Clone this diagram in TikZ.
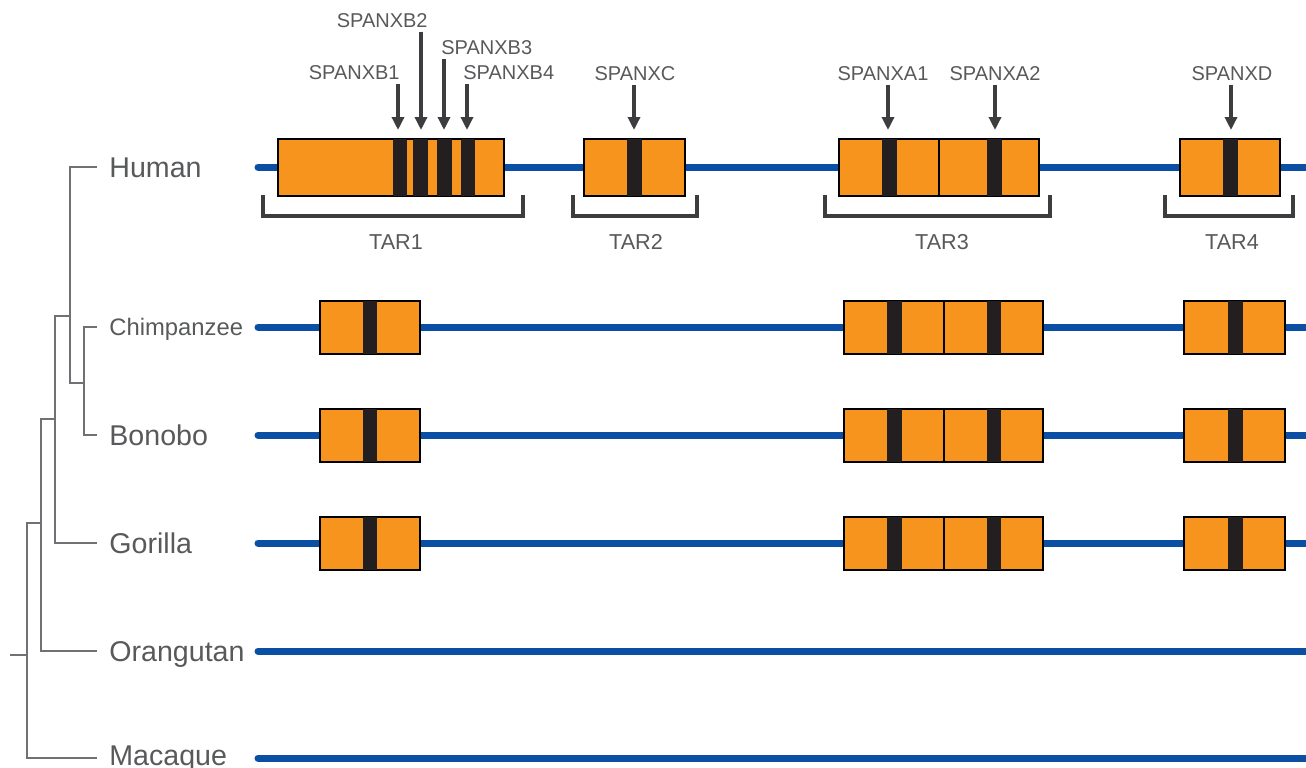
\documentclass[tikz,border=0pt]{standalone}
\usepackage{fontspec}
\setmainfont{Liberation Sans}
\usetikzlibrary{arrows.meta,positioning}
\definecolor{chromblue}{HTML}{0A4FA3}
\definecolor{taorange}{HTML}{F7941D}
\definecolor{bandblack}{HTML}{231F20}
\definecolor{labelgray}{HTML}{58595B}
\definecolor{markgray}{HTML}{3D3D3F}
\definecolor{treegray}{HTML}{707174}

\begin{document}
\begin{tikzpicture}[x=0.5pt,y=-0.5pt,
  chrom/.style={line width=3.5pt,draw=chromblue,line cap=round},
  segbox/.style={draw=black,line width=1pt,fill=taorange},
  band/.style={fill=bandblack},
  marker/.style={line width=2pt,draw=markgray,shorten <=2pt,-{Triangle[width=6pt,length=6.5pt]}},
  tarbrace/.style={line width=2pt,draw=markgray},
  tree/.style={line width=1.3pt,draw=treegray},
  species/.style={inner sep=0pt,text=labelgray,font=\fontsize{14.3}{17}\selectfont,text height=10.2pt,text depth=0pt},
  gene/.style={inner sep=0pt,text=labelgray,font=\fontsize{10}{12}\selectfont,text height=7.2pt,text depth=0pt},
  tar/.style={inner sep=0pt,text=labelgray,font=\fontsize{10.8}{13}\selectfont,text height=7.7pt,text depth=0pt}]
\useasboundingbox (0,0) rectangle (1306,767);

% Chromosomes
\foreach \y in {167,327,435,543,651,758}
  \draw[chrom] (258,\y) -- (1312,\y);

% Species labels
\coordinate (thum) at (97,167);
\coordinate (tchi) at (97,327);
\coordinate (tbon) at (97,435);
\coordinate (tgor) at (97,543);
\coordinate (tora) at (97,651);
\coordinate (tmac) at (97,758);
\node[species,right=6pt of thum] (lhum) {Human};
\node[species,right=6pt of tchi,font=\fontsize{11.9}{14}\selectfont,text height=8.5pt] (lchi) {Chimpanzee};
\node[species,right=6pt of tbon] (lbon) {Bonobo};
\node[species,right=6pt of tgor] (lgor) {Gorilla};
\node[species,right=6pt of tora] (lora) {Orangutan};
\node[species,right=6pt of tmac,yshift=1.5pt] (lmac) {Macaque};

% Tree
\draw[tree] (tchi) -| (84,435) -- (tbon);
\draw[tree] (thum) -| (70,383) -- (84,383);
\draw[tree] (tgor) -| (55,316) -- (70,316);
\draw[tree] (tora) -| (41,419) -- (55,419);
\draw[tree] (tmac) -| (27,523) -- (41,523);
\draw[tree] (10,655) -- (27,655);

% Human: TAR1
\draw[segbox] (278,139) rectangle (504,196);
\foreach \a/\b in {393/407,413/428,437/452,461/475}
  \fill[band] (\a,139) rectangle (\b,196);
% Human: TAR2
\draw[segbox] (584,139) rectangle (685,196);
\fill[band] (627,139) rectangle (642,196);
% Human: TAR3
\draw[segbox] (839,139) rectangle (1039,196);
\draw[line width=1pt] (939,139) -- (939,196);
\fill[band] (882,139) rectangle (897,196);
\fill[band] (987,139) rectangle (1002,196);
% Human: TAR4
\draw[segbox] (1180,139) rectangle (1280,196);
\fill[band] (1223,139) rectangle (1238,196);

% Chimpanzee, Bonobo, Gorilla
\foreach \y in {327,435,543} {
  \draw[segbox] (320,\y-26) rectangle (420,\y+27);
  \fill[band] (363,\y-26) rectangle (377,\y+27);
  \draw[segbox] (844,\y-26) rectangle (1043,\y+27);
  \draw[line width=1pt] (944,\y-26) -- (944,\y+27);
  \fill[band] (887,\y-26) rectangle (902,\y+27);
  \fill[band] (987,\y-26) rectangle (1001,\y+27);
  \draw[segbox] (1184,\y-26) rectangle (1285,\y+27);
  \fill[band] (1228,\y-26) rectangle (1243,\y+27);
}

% Genes
\node[gene,anchor=east] (gb1) at (400,72) {SPANXB1};
\node[gene,anchor=east] (gb2) at (428,20) {SPANXB2};
\node[gene,anchor=west] (gb3) at (441,47) {SPANXB3};
\node[gene,anchor=west] (gb4) at (463,72) {SPANXB4};
\node[gene] (gc) at (635,73) {SPANXC};
\node[gene] (ga1) at (883,73) {SPANXA1};
\node[gene] (ga2) at (995,73) {SPANXA2};
\node[gene] (gd) at (1232,73) {SPANXD};
\coordinate (mb1) at (398,130);
\coordinate (mb2) at (421,130);
\coordinate (mb3) at (444,130);
\coordinate (mb4) at (467,130);
\coordinate (mc) at (634,130);
\coordinate (ma1) at (888,130);
\coordinate (ma2) at (995,130);
\coordinate (md) at (1231,130);
\draw[marker] (gb1.south -| mb1) -- (mb1);
\draw[marker] (gb2.south -| mb2) -- (mb2);
\draw[marker] (gb3.south -| mb3) -- (mb3);
\draw[marker] (gb4.south -| mb4) -- (mb4);
\draw[marker] (gc.south -| mc) -- (mc);
\draw[marker] (ga1.south -| ma1) -- (ma1);
\draw[marker] (ga2.south -| ma2) -- (ma2);
\draw[marker] (gd.south -| md) -- (md);

% TAR brackets
\draw[tarbrace] (263,195) |- (523,216) -- (523,195);
\draw[tarbrace] (573,195) |- (697,216) -- (697,195);
\draw[tarbrace] (825,195) |- (1050,216) -- (1050,195);
\draw[tarbrace] (1165,195) |- (1293,216) -- (1293,195);
\node[tar] (tar1) at (396,242) {TAR1};
\node[tar] (tar2) at (636,242) {TAR2};
\node[tar] (tar3) at (942,242) {TAR3};
\node[tar] (tar4) at (1232,242) {TAR4};
\end{tikzpicture}
\end{document}
